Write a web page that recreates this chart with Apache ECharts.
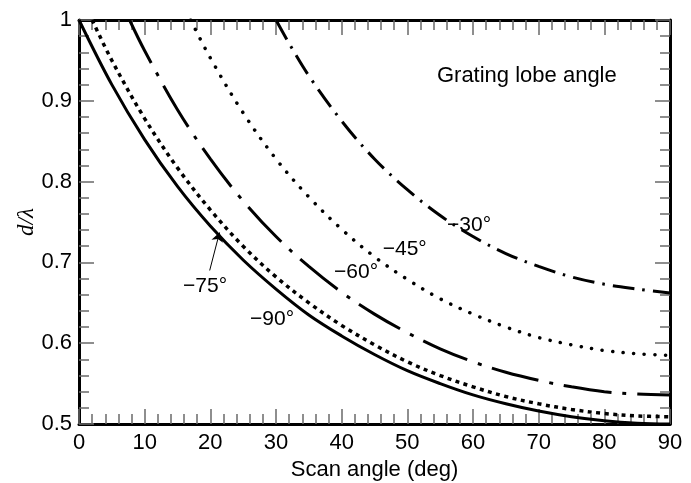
<!DOCTYPE html>
<html>
<head>
<meta charset="utf-8">
<script src="https://cdn.jsdelivr.net/npm/echarts@6/dist/echarts.min.js"></script>
<style>
  html, body { margin: 0; padding: 0; background: #fff; }
  #chart { width: 691px; height: 483px; }
</style>
</head>
<body>
<div id="chart"></div>
<script>
// Element spacing d/λ at which a grating lobe appears, versus scan angle,
// for several grating-lobe angles. Each list holds [scan angle (deg), d/λ].
const lobe90 = [[0,1.000],[5,0.920],[10,0.852],[15,0.794],[20,0.745],[25,0.703],[30,0.667],[35,0.635],[40,0.609],[45,0.586],[50,0.566],[55,0.550],[60,0.536],[65,0.525],[70,0.516],[75,0.509],[80,0.504],[85,0.501],[90,0.500]];
const lobe75 = [[2,1.000],[5,0.950],[10,0.878],[15,0.817],[20,0.765],[25,0.720],[30,0.682],[35,0.650],[40,0.622],[45,0.598],[50,0.577],[55,0.560],[60,0.546],[65,0.534],[70,0.525],[75,0.518],[80,0.513],[85,0.510],[90,0.509]];
const lobe60 = [[7.7,1.000],[10,0.962],[15,0.889],[20,0.828],[25,0.776],[30,0.732],[35,0.695],[40,0.663],[45,0.636],[50,0.613],[55,0.593],[60,0.577],[65,0.564],[70,0.554],[75,0.546],[80,0.540],[85,0.537],[90,0.536]];
const lobe45 = [[17,1.000],[20,0.953],[25,0.885],[30,0.828],[35,0.781],[40,0.741],[45,0.707],[50,0.679],[55,0.655],[60,0.636],[65,0.620],[70,0.607],[75,0.598],[80,0.591],[85,0.587],[90,0.585]];
const lobe30 = [[30,1.000],[32,0.971],[35,0.931],[40,0.875],[45,0.828],[50,0.790],[55,0.758],[60,0.732],[65,0.711],[70,0.695],[75,0.682],[80,0.673],[85,0.667],[90,0.662]];

const curveNames = ['\u221290\u00b0', '\u221275\u00b0', '\u221260\u00b0', '\u221245\u00b0', '\u221230\u00b0'];
const legendTitle = 'Grating lobe angle';
const xTicks = { min: 0, max: 90, step: 10 };
const yTicks = { min: 0.5, max: 1, step: 0.1 };

const SANS = 'Liberation Sans, Arial, Helvetica, sans-serif';
const tickColor = '#6a6a6a';

function axisBase(showLabels) {
  return {
    type: 'value',
    axisLine: { show: true, onZero: false, lineStyle: { color: '#000', width: 3 } },
    axisTick: { show: true, inside: true, length: 15, lineStyle: { color: tickColor, width: 1.5 } },
    minorTick: { show: true, splitNumber: 5, length: 10, lineStyle: { color: tickColor, width: 1.5 } },
    splitLine: { show: false },
    minorSplitLine: { show: false },
    nameMoveOverlap: false,
    axisLabel: { show: showLabels, fontSize: 22, color: '#000', fontFamily: SANS }
  };
}

const chart = echarts.init(document.getElementById('chart'), null, { renderer: 'canvas' });

const lineCommon = {
  type: 'line', smooth: 0.35, symbol: 'none', silent: true,
  xAxisIndex: 0, yAxisIndex: 0, clip: true
};

chart.setOption({
  animation: false,
  backgroundColor: '#fff',
  grid: { left: 79, right: 21, top: 20, bottom: 59, outerBoundsMode: 'none', containLabel: false },
  xAxis: [
    Object.assign(axisBase(true), {
      position: 'bottom', min: xTicks.min, max: xTicks.max, interval: xTicks.step,
      name: 'Scan angle (deg)', nameLocation: 'middle', nameGap: 35,
      nameTextStyle: { fontSize: 22, color: '#000', fontFamily: SANS },
      axisLabel: { show: true, fontSize: 22, color: '#000', fontFamily: SANS, margin: 8 }
    }),
    Object.assign(axisBase(false), {
      position: 'top', min: xTicks.min, max: xTicks.max, interval: xTicks.step
    })
  ],
  yAxis: [
    Object.assign(axisBase(true), {
      position: 'left', min: yTicks.min, max: yTicks.max, interval: yTicks.step,
      name: 'd/\u03bb', nameLocation: 'middle', nameGap: 41,
      nameTextStyle: { fontSize: 23, color: '#000', fontStyle: 'italic', fontFamily: 'Liberation Serif, Times New Roman, serif' },
      axisLabel: { show: true, fontSize: 22, color: '#000', fontFamily: SANS, margin: 7,
        formatter: v => (Math.abs(v - 1) < 1e-9 ? '1' : v.toFixed(1)) }
    }),
    Object.assign(axisBase(false), {
      position: 'right', min: yTicks.min, max: yTicks.max, interval: yTicks.step
    })
  ],
  series: [
    Object.assign({}, lineCommon, {
      name: curveNames[0], data: lobe90,
      lineStyle: { color: '#000', width: 3 },
      markLine: {
        silent: true, symbol: ['none', 'arrow'], symbolSize: 9,
        lineStyle: { color: '#000', width: 1, type: 'solid' },
        label: { show: false },
        data: [[{ coord: [19.9, 0.690] }, { coord: [21.4, 0.737] }]]
      }
    }),
    Object.assign({}, lineCommon, {
      name: curveNames[1], data: lobe75,
      lineStyle: { color: '#000', width: 3.5, type: [4, 4.5], cap: 'butt' }
    }),
    Object.assign({}, lineCommon, {
      name: curveNames[2], data: lobe60,
      lineStyle: { color: '#000', width: 3, type: [48, 11, 4, 11], cap: 'butt' }
    }),
    Object.assign({}, lineCommon, {
      name: curveNames[3], data: lobe45,
      lineStyle: { color: '#000', width: 3.5, type: [0.1, 10.5], cap: 'round' }
    }),
    Object.assign({}, lineCommon, {
      name: curveNames[4], data: lobe30,
      lineStyle: { color: '#000', width: 3, type: [22, 8, 2.5, 8], cap: 'butt' }
    })
  ]
});

// Curve captions, anchored in data coordinates (centre of each text).
const captions = [
  { at: [59.4, 0.746], text: curveNames[4], size: 21 },
  { at: [49.6, 0.716], text: curveNames[3], size: 21 },
  { at: [42.2, 0.688], text: curveNames[2], size: 21 },
  { at: [19.2, 0.671], text: curveNames[1], size: 21 },
  { at: [29.4, 0.630], text: curveNames[0], size: 21 },
  { at: [68.2, 0.931], text: legendTitle, size: 22 }
];
chart.setOption({
  graphic: captions.map(c => {
    const p = chart.convertToPixel({ xAxisIndex: 0, yAxisIndex: 0 }, c.at);
    return {
      type: 'text', x: p[0], y: p[1], silent: true, z: 10,
      style: { text: c.text, fill: '#000', font: c.size + 'px ' + SANS, align: 'center', verticalAlign: 'middle' }
    };
  })
});
</script>
</body>
</html>
